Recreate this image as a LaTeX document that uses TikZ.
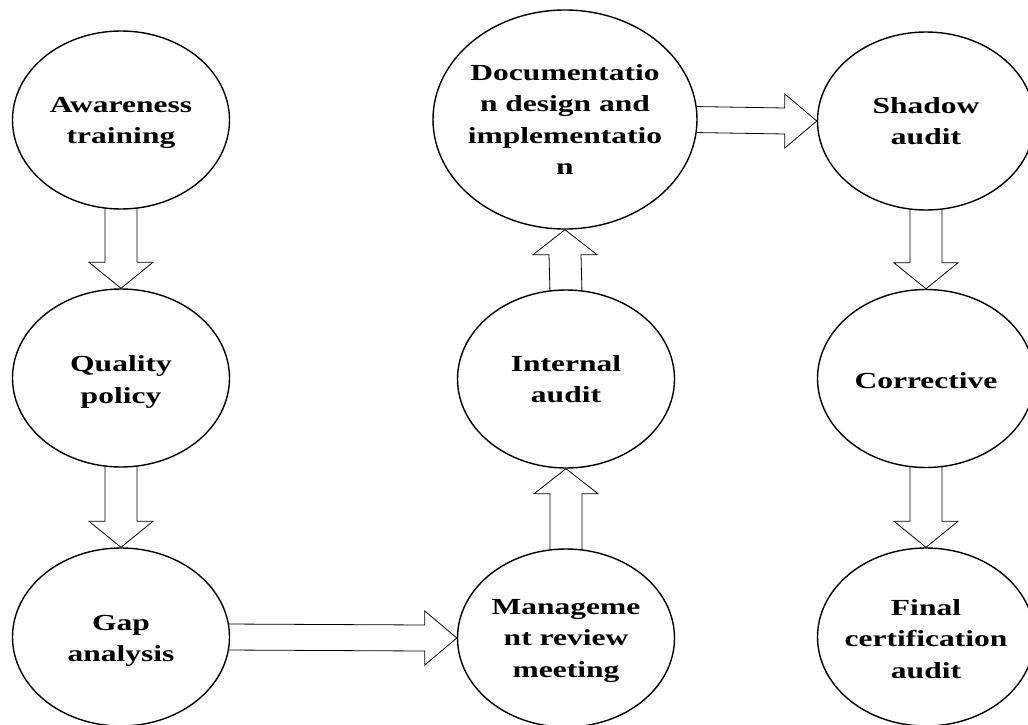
\documentclass[tikz,border=0pt]{standalone}
\usepackage{fontspec}
\setmainfont{Liberation Serif}[FakeStretch=1.37]
\usetikzlibrary{shapes.geometric,calc}
\pgfdeclarelayer{background}
\pgfsetlayers{background,main}
\newcommand{\downblock}[2]{\draw[blockarrow] ($(#1.south)+(-16,-4)$) -- ($(#2.north)+(-16,-26)$) -- ($(#2.north)+(-32,-26)$) -- (#2.north) -- ($(#2.north)+(32,-26)$) -- ($(#2.north)+(16,-26)$) -- ($(#1.south)+(16,-4)$);}
\newcommand{\upblock}[2]{\draw[blockarrow] ($(#1.north)+(-16,4)$) -- ($(#2.south)+(-16,25)$) -- ($(#2.south)+(-32,25)$) -- (#2.south) -- ($(#2.south)+(32,25)$) -- ($(#2.south)+(16,25)$) -- ($(#1.north)+(16,4)$);}
\newcommand{\rightblock}[2]{\draw[blockarrow] ($(#1.east)+(-4,-13)$) -- ($(#2.west)+(-32,-13)$) -- ($(#2.west)+(-32,-27)$) -- (#2.west) -- ($(#2.west)+(-32,27)$) -- ($(#2.west)+(-32,13)$) -- ($(#1.east)+(-4,13)$);}
\begin{document}
\begin{tikzpicture}[x=1pt,y=-1pt,
  blob/.style={ellipse,draw=black,line width=1.4pt,fill=white,inner sep=0pt,minimum width=217pt,minimum height=178pt},
  lbl/.style={align=center,font=\fontsize{23}{31.5}\selectfont\bfseries,inner sep=0pt},
  blockarrow/.style={draw=black,line width=0.8pt,fill=white,line join=miter}]
\useasboundingbox (0,0) rectangle (1028,725);
% ellipses
\node[blob] (aw) at (121,120) {};
\node[blob] (qp) at (121,378) {};
\node[blob] (gap) at (121,637) {};
\node[blob,minimum width=264pt,minimum height=219pt] (doc) at (565,119.5) {};
\node[blob] (ia) at (566,379) {};
\node[blob] (mr) at (566,638) {};
\node[blob] (sa) at (926,121) {};
\node[blob] (co) at (926,378.5) {};
\node[blob] (fc) at (926,637) {};
% labels
\node[lbl] (awt) at ($(aw)+(0,3)$) {Awareness\\training};
\node[lbl] (qpt) at ($(qp)+(0,4)$) {Quality\\policy};
\node[lbl] (gapt) at ($(gap)+(0,4)$) {Gap\\analysis};
\node[lbl] (doct) at (doc) {Documentatio\\n design and\\implementatio\\n};
\node[lbl] (iat) at (ia) {Internal\\audit};
\node[lbl] (mrt) at ($(mr)+(0,3)$) {Manageme\\nt review\\meeting};
\node[lbl] (sat) at (sa) {Shadow\\audit};
\node[lbl] (cot) at ($(co)+(0,2)$) {Corrective};
\node[lbl] (fct) at ($(fc)+(0,2)$) {Final\\certification\\audit};
% block arrows
\begin{pgfonlayer}{background}
\downblock{aw}{qp}
\downblock{qp}{gap}
\rightblock{gap}{mr}
\upblock{mr}{ia}
\upblock{ia}{doc}
\rightblock{doc}{sa}
\downblock{sa}{co}
\downblock{co}{fc}
\end{pgfonlayer}
\end{tikzpicture}
\end{document}
